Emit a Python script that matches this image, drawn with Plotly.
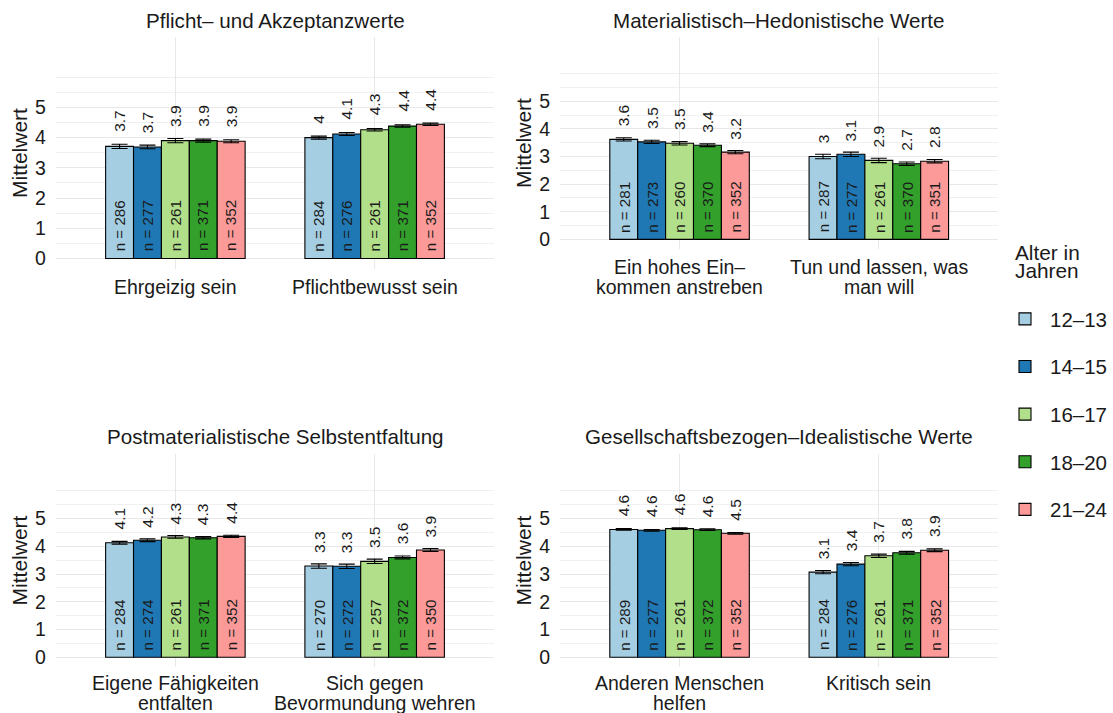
import plotly.graph_objects as go

# Age groups (legend) and their colours (ColorBrewer "Paired")
AGE_GROUPS = ["12–13", "14–15", "16–17", "18–20", "21–24"]
AGE_COLORS = ["#A6CEE3", "#1F78B4", "#B2DF8A", "#33A02C", "#FB9A99"]

PANEL_TITLES = [
    "Pflicht– und Akzeptanzwerte",
    "Materialistisch–Hedonistische Werte",
    "Postmaterialistische Selbstentfaltung",
    "Gesellschaftsbezogen–Idealistische Werte",
]

# items per panel ("\n" = line break in the axis label)
items_pflicht = ["Ehrgeizig sein", "Pflichtbewusst sein"]
items_material = ["Ein hohes Ein–\nkommen anstreben", "Tun und lassen, was\nman will"]
items_postmat = ["Eigene Fähigkeiten\nentfalten", "Sich gegen\nBevormundung wehren"]
items_gesell = ["Anderen Menschen\nhelfen", "Kritisch sein"]

# means: one row per item, one value per age group
means_pflicht = [[3.71, 3.69, 3.90, 3.90, 3.88], [4.00, 4.12, 4.26, 4.38, 4.44]]
means_material = [[3.62, 3.53, 3.48, 3.41, 3.16], [3.00, 3.08, 2.86, 2.74, 2.83]]
means_postmat = [[4.13, 4.22, 4.34, 4.31, 4.36], [3.29, 3.28, 3.46, 3.60, 3.87]]
means_gesell = [[4.61, 4.58, 4.64, 4.60, 4.47], [3.07, 3.36, 3.66, 3.77, 3.86]]

# error bar half-widths
err_pflicht = [[0.07, 0.06, 0.07, 0.05, 0.05], [0.05, 0.05, 0.04, 0.04, 0.04]]
err_material = [[0.06, 0.06, 0.06, 0.05, 0.06], [0.08, 0.08, 0.08, 0.06, 0.06]]
err_postmat = [[0.05, 0.05, 0.05, 0.04, 0.04], [0.08, 0.08, 0.08, 0.05, 0.05]]
err_gesell = [[0.03, 0.03, 0.03, 0.03, 0.03], [0.06, 0.06, 0.06, 0.05, 0.05]]

# sample sizes
n_pflicht = [[286, 277, 261, 371, 352], [284, 276, 261, 371, 352]]
n_material = [[281, 273, 260, 370, 352], [287, 277, 261, 370, 351]]
n_postmat = [[284, 274, 261, 371, 352], [270, 272, 257, 372, 350]]
n_gesell = [[289, 277, 261, 372, 352], [284, 276, 261, 371, 352]]

panels = [
    (items_pflicht, means_pflicht, err_pflicht, n_pflicht),
    (items_material, means_material, err_material, n_material),
    (items_postmat, means_postmat, err_postmat, n_postmat),
    (items_gesell, means_gesell, err_gesell, n_gesell),
]

W, H = 1113, 713
FONT = "Liberation Sans, Arial, sans-serif"
TXT = "#1a1a1a"
GRID = "#e8e8e8"

# panel placement in pixels: (left, right, top, bottom)
PANEL_BOX = [
    (56, 496, 37, 269),
    (562, 1002, 37, 249),
    (56, 496, 454, 667),
    (562, 1002, 454, 667),
]

BAR_W = 0.7 / len(AGE_GROUPS)

fig = go.Figure()
annotations = []

for p, (items, means, errs, ns) in enumerate(panels):
    ax = "" if p == 0 else str(p + 1)
    for j, age in enumerate(AGE_GROUPS):
        fig.add_trace(go.Bar(
            x=items,
            y=[m[j] for m in means],
            error_y=dict(type="data", array=[e[j] for e in errs],
                         color="black", thickness=1.1, width=8),
            marker=dict(color=AGE_COLORS[j], line=dict(color="black", width=1.1)),
            name=age,
            legendgroup=age,
            showlegend=(p == 0),
            xaxis="x" + ax,
            yaxis="y" + ax,
            hoverinfo="skip",
        ))
        for i in range(len(items)):
            xpos = i + (j - (len(AGE_GROUPS) - 1) / 2) * BAR_W
            val = round(means[i][j], 1)
            annotations.append(dict(
                x=xpos, y=means[i][j] + 0.5, xref="x" + ax, yref="y" + ax,
                text=f"{val:g}", textangle=-90, showarrow=False,
                xanchor="center", yanchor="bottom", yshift=-3,
                font=dict(size=15.5, color=TXT, family=FONT),
            ))
            annotations.append(dict(
                x=xpos, y=0.17, xref="x" + ax, yref="y" + ax,
                text=f"n = {ns[i][j]}", textangle=-90, showarrow=False,
                xanchor="center", yanchor="bottom",
                font=dict(size=15.2, color=TXT, family=FONT),
            ))

    # category labels below the panel (tight line spacing)
    first_gap = 18 if p < 2 else 16
    for i, name in enumerate(items):
        for k, line in enumerate(name.split("\n")):
            annotations.append(dict(
                x=i, y=0, xref="x" + ax, yref=f"y{ax} domain",
                text=line, showarrow=False, xanchor="center", yanchor="middle",
                yshift=-(first_gap + 20 * k),
                font=dict(size=19.5, color=TXT, family=FONT),
            ))

    left, right, top, bottom = PANEL_BOX[p]
    fig.update_layout({
        "xaxis" + ax: dict(
            domain=[left / W, right / W],
            anchor="y" + ax,
            type="category",
            range=[-0.6, 1.6],
            showgrid=True, gridcolor=GRID, gridwidth=1.1,
            showticklabels=False,
            showline=False, zeroline=False,
        ),
        "yaxis" + ax: dict(
            domain=[1 - bottom / H, 1 - top / H],
            anchor="x" + ax,
            range=[-0.35, 7.33],
            tickvals=[0, 1, 2, 3, 4, 5],
            showgrid=True, gridcolor=GRID, gridwidth=1.1,
            minor=dict(tickvals=[0.5, 1.5, 2.5, 3.5, 4.5, 5.5, 6],
                       showgrid=True, gridcolor="#f0f0f0", gridwidth=0.7),
            ticks="outside", ticklen=5, tickcolor="rgba(0,0,0,0)",
            showline=False, zeroline=False,
            tickfont=dict(size=19.5, color=TXT, family=FONT),
            title=dict(text="Mittelwert", standoff=1,
                       font=dict(size=21, color=TXT, family=FONT)),
        ),
    })
    annotations.append(dict(
        x=(left + right) / 2 / W, y=1 - (20 if p < 2 else 436) / H,
        xref="paper", yref="paper", text=PANEL_TITLES[p], showarrow=False,
        xanchor="center", yanchor="middle",
        font=dict(size=20.6, color=TXT, family=FONT),
    ))

# legend title (two tight lines)
for k, line in enumerate(["Alter in", "Jahren"]):
    annotations.append(dict(
        x=1017 / W, y=1 - (252 + 18.5 * k) / H, xref="paper", yref="paper",
        text=line, showarrow=False, xanchor="left", yanchor="middle",
        font=dict(size=20.8, color=TXT, family=FONT),
    ))

fig.update_layout(
    width=W, height=H,
    margin=dict(l=0, r=0, t=0, b=0),
    paper_bgcolor="white", plot_bgcolor="white",
    barmode="group", bargap=0.3, bargroupgap=0,
    annotations=annotations,
    font=dict(family=FONT, color=TXT),
    legend=dict(
        font=dict(size=20.5, color=TXT, family=FONT),
        x=1004 / W, xanchor="left", y=1 - 299 / H, yanchor="top",
        tracegroupgap=18, itemwidth=40, bgcolor="rgba(0,0,0,0)",
    ),
)

# drop the browser's default body margin so the figure fills the window
fig.write_html(
    "out.html",
    config={"displayModeBar": False},
    post_script="document.body.style.margin='0';",
)
